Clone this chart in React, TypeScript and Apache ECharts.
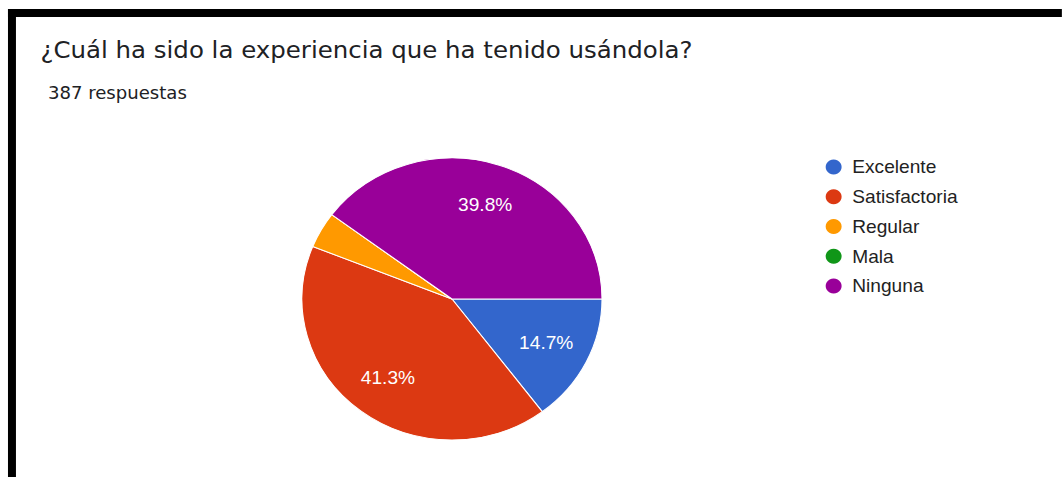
import React, { useEffect, useRef } from "react";
import * as echarts from "echarts";

const titleText = "¿Cuál ha sido la experiencia que ha tenido usándola?";
const subtitleText = "387 respuestas";
const categories = ["Excelente", "Satisfactoria", "Regular", "Mala", "Ninguna"];
const counts = [57, 160, 16, 0, 154];
const colors = ["#3366cc", "#dc3912", "#ff9900", "#109618", "#990099"];

const SX = 1.064; // horizontal stretch of the reference

export default function App() {
  const ref = useRef<HTMLDivElement>(null);
  useEffect(() => {
    if (!ref.current) return;
    const chart = echarts.init(ref.current, undefined, { renderer: "svg" });
    const data = categories.map((name, i) => ({ name, value: counts[i] }));
    const labelFmt = (p: any) => (p.percent >= 5 ? p.percent.toFixed(1) + "%" : "");
    chart.setOption({
      animation: false,
      backgroundColor: "#ffffff",
      color: colors,
      title: [
        {
          text: titleText,
          left: 38,
          top: 36,
          padding: 0,
          textStyle: {
            fontFamily: "DejaVu Sans",
            fontSize: 23,
            fontWeight: "normal",
            color: "#202124",
            lineHeight: 28,
          },
        },
        {
          text: subtitleText,
          left: 45,
          top: 83,
          padding: 0,
          textStyle: {
            fontFamily: "DejaVu Sans",
            fontSize: 17,
            fontWeight: "normal",
            color: "#202124",
            lineHeight: 20,
          },
        },
      ],
      graphic: [
        { type: "rect", shape: { x: 7.5, y: 9, width: 991, height: 8 }, style: { fill: "#000" } },
        { type: "rect", shape: { x: 7.5, y: 9, width: 7.5, height: 468 }, style: { fill: "#000" } },
      ],
      legend: {
        orient: "vertical",
        left: 776,
        top: 158,
        padding: 0,
        icon: "circle",
        itemWidth: 15,
        itemHeight: 17,
        itemGap: 11.75,
        data: categories,
        selectedMode: false,
        itemStyle: { borderWidth: 0 },
        textStyle: {
          fontFamily: "Liberation Sans",
          fontSize: 18,
          color: "#222222",
          lineHeight: 18,
          padding: [0, 0, 0, 5],
        },
      },
      series: [
        {
          type: "pie",
          center: [424.8, 299],
          radius: [0, 141],
          startAngle: 0,
          clockwise: true,
          data,
          label: { show: false },
          labelLine: { show: false },
          itemStyle: { borderColor: "#ffffff", borderWidth: 1 },
          emphasis: { disabled: true },
        },
        {
          type: "pie",
          center: [424.8, 299],
          radius: [0, 192],
          startAngle: 0,
          clockwise: true,
          silent: true,
          data,
          itemStyle: { color: "rgba(0,0,0,0)", borderWidth: 0 },
          label: {
            show: true,
            position: "inside",
            formatter: labelFmt,
            color: "#ffffff",
            fontFamily: "Liberation Sans",
            fontSize: 18,
            textBorderWidth: 0,
          },
          labelLine: { show: false },
          emphasis: { disabled: true },
        },
      ],
    });
    return () => chart.dispose();
  }, []);
  return (
    <div
      ref={ref}
      style={{
        position: "fixed",
        left: 0,
        top: 0,
        width: 1062 / SX,
        height: 477,
        transform: `scaleX(${SX})`,
        transformOrigin: "0 0",
        background: "#fff",
      }}
    />
  );
}
